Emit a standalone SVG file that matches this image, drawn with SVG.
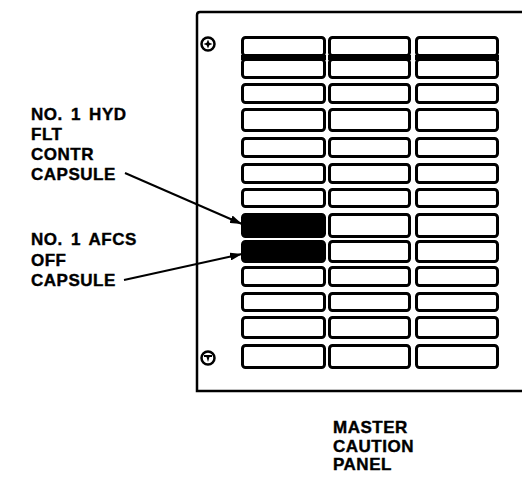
<svg xmlns="http://www.w3.org/2000/svg" width="522" height="477" viewBox="0 0 522 477">
<defs>
<style>
.cap{fill:#fff;stroke:#000;stroke-width:3;}
.on{fill:#000;stroke:#000;stroke-width:3;}
.frame{fill:none;stroke:#000;stroke-width:2.5;}
.lbl{font-family:"Liberation Sans",Arial,sans-serif;font-weight:bold;font-size:17px;letter-spacing:0.5px;word-spacing:3px;fill:#000;stroke:#000;stroke-width:0.4;}
.ldr{stroke:#000;stroke-width:2;fill:none;}
</style>
<marker id="ah" viewBox="0 0 12 8" refX="12" refY="4" markerWidth="12" markerHeight="8" markerUnits="userSpaceOnUse" orient="auto">
<path d="M0,0 L12,4 L0,8 Z" fill="#000"/>
</marker>
</defs>
<rect width="522" height="477" fill="#fff"/>
<g id="panel">
<path class="frame" d="M522,12 L200,12 Q197,12 197,15 L197,391 L522,391"/>
<g id="screw-top">
<circle cx="208" cy="44" r="6.5" fill="#fff" stroke="#000" stroke-width="2.5"/>
<path d="M208,39.5 L209.3,42.7 L212.5,44 L209.3,45.3 L208,48.5 L206.7,45.3 L203.5,44 L206.7,42.7 Z" fill="#000"/>
</g>
<g id="screw-bottom">
<circle cx="208" cy="358" r="6.5" fill="#fff" stroke="#000" stroke-width="2.5"/>
<path d="M204,355 L212,355 L212,357 L209.5,357 L208,362 L206.5,357 L204,357 Z" fill="#000"/>
</g>
</g>
<g id="capsules">
<g id="row1"><rect class="cap" x="242.5" y="37.5" width="82" height="18" rx="3"/><rect class="cap" x="329.5" y="37.5" width="80" height="18" rx="3"/><rect class="cap" x="416.5" y="37.5" width="81" height="18" rx="3"/></g>
<g id="row2"><rect class="cap" x="242.5" y="59.5" width="82" height="18" rx="3"/><rect class="cap" x="329.5" y="59.5" width="80" height="18" rx="3"/><rect class="cap" x="416.5" y="59.5" width="81" height="18" rx="3"/>
<rect x="241" y="55" width="85" height="5" fill="#000"/><rect x="328" y="55" width="83" height="5" fill="#000"/><rect x="415" y="55" width="84" height="5" fill="#000"/></g>
<g id="row3"><rect class="cap" x="242.5" y="84.5" width="82" height="18" rx="3"/><rect class="cap" x="329.5" y="84.5" width="80" height="18" rx="3"/><rect class="cap" x="416.5" y="84.5" width="81" height="18" rx="3"/></g>
<g id="row4"><rect class="cap" x="242.5" y="109.5" width="82" height="21" rx="3"/><rect class="cap" x="329.5" y="109.5" width="80" height="21" rx="3"/><rect class="cap" x="416.5" y="109.5" width="81" height="21" rx="3"/></g>
<g id="row5"><rect class="cap" x="242.5" y="138.5" width="82" height="18" rx="3"/><rect class="cap" x="329.5" y="138.5" width="80" height="18" rx="3"/><rect class="cap" x="416.5" y="138.5" width="81" height="18" rx="3"/></g>
<g id="row6"><rect class="cap" x="242.5" y="164.5" width="82" height="18" rx="3"/><rect class="cap" x="329.5" y="164.5" width="80" height="18" rx="3"/><rect class="cap" x="416.5" y="164.5" width="81" height="18" rx="3"/></g>
<g id="row7"><rect class="cap" x="242.5" y="189.5" width="82" height="17" rx="3"/><rect class="cap" x="329.5" y="189.5" width="80" height="17" rx="3"/><rect class="cap" x="416.5" y="189.5" width="81" height="17" rx="3"/></g>
<g id="row8"><rect id="hyd-flt-contr" class="on" x="242.5" y="214.5" width="82" height="22" rx="3"/><rect class="cap" x="329.5" y="214.5" width="80" height="22" rx="3"/><rect class="cap" x="416.5" y="214.5" width="81" height="22" rx="3"/></g>
<g id="row9"><rect id="afcs-off" class="on" x="242.5" y="241.5" width="82" height="20" rx="3"/><rect class="cap" x="329.5" y="241.5" width="80" height="20" rx="3"/><rect class="cap" x="416.5" y="241.5" width="81" height="20" rx="3"/></g>
<g id="row10"><rect class="cap" x="242.5" y="267.5" width="82" height="18" rx="3"/><rect class="cap" x="329.5" y="267.5" width="80" height="18" rx="3"/><rect class="cap" x="416.5" y="267.5" width="81" height="18" rx="3"/></g>
<g id="row11"><rect class="cap" x="242.5" y="293.5" width="82" height="17" rx="3"/><rect class="cap" x="329.5" y="293.5" width="80" height="17" rx="3"/><rect class="cap" x="416.5" y="293.5" width="81" height="17" rx="3"/></g>
<g id="row12"><rect class="cap" x="242.5" y="317.5" width="82" height="20" rx="3"/><rect class="cap" x="329.5" y="317.5" width="80" height="20" rx="3"/><rect class="cap" x="416.5" y="317.5" width="81" height="20" rx="3"/></g>
<g id="row13"><rect class="cap" x="242.5" y="345.5" width="82" height="22" rx="3"/><rect class="cap" x="329.5" y="345.5" width="80" height="22" rx="3"/><rect class="cap" x="416.5" y="345.5" width="81" height="22" rx="3"/></g>
</g>
<g id="label-hyd">
<text class="lbl" x="31" y="120">NO. 1 HYD</text>
<text class="lbl" x="31" y="140">FLT</text>
<text class="lbl" x="31" y="160">CONTR</text>
<text class="lbl" x="31" y="180">CAPSULE</text>
</g>
<g id="label-afcs">
<text class="lbl" x="31" y="245">NO. 1 AFCS</text>
<text class="lbl" x="31" y="265.5">OFF</text>
<text class="lbl" x="31" y="286">CAPSULE</text>
</g>
<g id="label-panel">
<text class="lbl" x="333" y="433">MASTER</text>
<text class="lbl" x="333" y="451.5">CAUTION</text>
<text class="lbl" x="333" y="470">PANEL</text>
</g>
<g id="connectors">
<line class="ldr" x1="125" y1="173" x2="242" y2="224" marker-end="url(#ah)"/>
<line class="ldr" x1="124" y1="280" x2="242" y2="254" marker-end="url(#ah)"/>
</g>
</svg>
